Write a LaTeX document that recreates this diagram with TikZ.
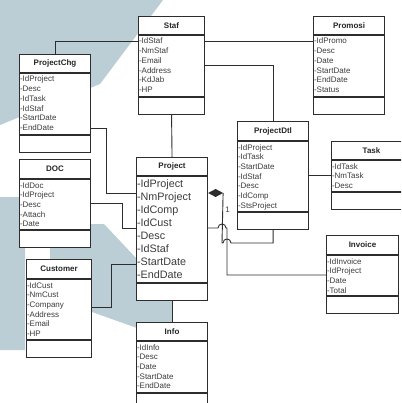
\documentclass[tikz,border=0pt]{standalone}
\usepackage{fontspec}
\setmainfont{Liberation Sans}
\usetikzlibrary{calc}
\definecolor{bgblue}{RGB}{187,205,213}
\definecolor{ink}{RGB}{45,45,45}
\definecolor{txt}{RGB}{60,60,60}
\newcommand\rowoff{9}
\newcommand\rowsep{9.7}
\newcommand\attrfont{\fontsize{8}{9.7}\selectfont}
\newcommand\umlclass[9]{%
  \node[cls, minimum width=#4pt, minimum height=#5pt, anchor=north west] (#1) at (#2,#3) {};
  \draw[sepline] ([yshift=-#6pt]#1.north west) -- ([yshift=-#6pt]#1.north east);
  \draw[sepline] ([yshift=-#7pt]#1.north west) -- ([yshift=-#7pt]#1.north east);
  \node[ttl] at ([yshift=-#6pt/2]#1.north) {#8};
  \foreach \a [count=\i] in {#9}
    \node[attr, anchor=base west] at ([xshift=0.8pt, yshift={-(#6+\rowoff+(\i-1)*\rowsep)*1pt}]#1.north west) {-\a};
}
\tikzset{
  cls/.style={rectangle, draw=ink, fill=white, line width=1.1pt, inner sep=0pt},
  sepline/.style={draw=ink, line width=1.1pt},
  ttl/.style={font=\fontsize{8}{9}\selectfont\bfseries, text=black!85, inner sep=0pt},
  attr/.style={font=\attrfont, text=txt, inner sep=0pt},
  conn/.style={draw=ink, line width=0.9pt},
}
\begin{document}
\begin{tikzpicture}[x=1pt,y=-1pt]
\useasboundingbox (0,0) rectangle (401,403);
\clip (0,0) rectangle (401,403);
% background watermark
\fill[bgblue] (0,0) -- (163,0) -- (100,84) -- (0,125) -- cycle;
\fill[bgblue] (0,197) -- (19,197) -- (19,247) -- (25,247) -- (25,350) -- (0,350) -- cycle;
\fill[bgblue] (90,224) -- (104,224) -- (136,258) -- (136,300) -- (172,300) -- (172,322) -- (137,328) -- (92,312) -- (92,259) -- (50,259) -- (50,247) -- (90,247) -- cycle;
% classes
\umlclass{staf}{138}{16}{66}{98}{19}{81}{Staf}{IdStaf,NmStaf,Email,Address,KdJab,HP}
\umlclass{promosi}{313}{16}{71}{98}{19}{81}{Promosi}{IdPromo,Desc,Date,StartDate,EndDate,Status}
\umlclass{projchg}{19}{54}{71}{98}{19}{81}{ProjectChg}{IdProject,Desc,IdTask,IdStaf,StartDate,EndDate}
\umlclass{doc}{19}{159}{71}{88}{20}{71}{DOC}{IdDoc,IdProject,Desc,Attach,Date}
\umlclass{customer}{26}{259}{65}{98}{20}{81}{Customer}{IdCust,NmCust,Company,Address,Email,HP}
\umlclass{info}{136}{322}{71}{90}{19}{71}{Info}{IdInfo,Desc,Date,StartDate,EndDate}
\umlclass{projdtl}{237}{121}{71}{108}{20}{91}{ProjectDtl}{IdProject,IdTask,StartDate,IdStaf,Desc,IdComp,StsProject}
\umlclass{task}{331}{141}{80}{68}{19}{51}{Task}{IdTask,NmTask,Desc}
\umlclass{invoice}{326}{235}{72}{78}{20}{61}{Invoice}{IdInvoice,IdProject,Date,Total}
\renewcommand\rowoff{11.5}
\renewcommand\rowsep{13}
\renewcommand\attrfont{\fontsize{10.8}{13}\selectfont}
\umlclass{project}{136}{157}{71}{143}{19}{126}{Project}{IdProject,NmProject,IdComp,IdCust,Desc,IdStaf,StartDate,EndDate}
% connectors
\draw[conn] (projchg.north) |- ([yshift=-25pt]staf.north west);
\draw[conn] ([yshift=-25pt]staf.north east) -- ([yshift=-25pt]promosi.north west);
\draw[conn] ([yshift=-49pt]staf.north east) -| (projdtl.north);
\draw[conn] (staf.south) -- (project.north);
\draw[conn] ([yshift=-74pt]projchg.north east) -- ++(15,0) |- ([yshift=-36pt]project.north west);
\draw[conn] ([yshift=-44pt]doc.north east) -- ++(31,0) |- ([yshift=-71pt]project.north west);
\draw[conn] ([yshift=-48pt]customer.north east) -- ++(19,0) |- ([yshift=-107pt]project.north west);
\draw[conn] (project.south) -- (info.north);
\draw[conn] ([yshift=-54pt]projdtl.north east) -- ([yshift=-34pt]task.north west);
% composition Project -- ProjectDtl
\coordinate (d0) at ([yshift=-36pt]project.north east);
\fill[ink] (d0) -- ++(7.5,-4) -- ++(7.5,4) -- ++(-7.5,4) -- cycle;
\coordinate (dt) at ([xshift=15pt]d0);
\draw[conn] (dt) -- (222,243) -- (223,243) .. controls (223,237.7) and (231,237.7) .. (231,243) -| (projdtl.south);
\node[font=\fontsize{8}{9}\selectfont, text=txt, inner sep=0pt] (one) at (227.5,210) {1};
% Project -- Invoice
\draw[conn] ([yshift=-71pt]project.north east) -- (218,228) .. controls (218,222.7) and (226,222.7) .. (226,228) -- (227,228) |- ([yshift=-40pt]invoice.north west);
\end{tikzpicture}
\end{document}
